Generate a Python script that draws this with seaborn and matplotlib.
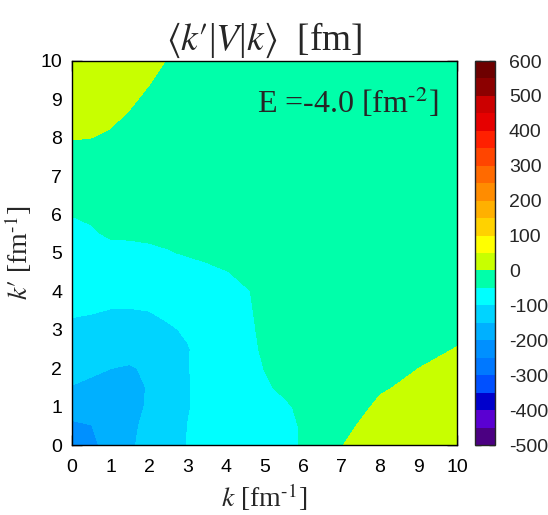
import numpy as np
import matplotlib
matplotlib.use("Agg")
import matplotlib.pyplot as plt
import seaborn as sns

# ---- data ----
k_grid = [0, 0.5, 1, 1.5, 2, 2.5, 3, 3.5, 4, 4.5, 5, 5.5, 6, 7, 8, 9, 10]
kp_grid = [0, 0.5, 1, 1.5, 2, 2.5, 3, 3.5, 4, 4.5, 5, 5.5, 6, 7, 8, 9, 10]

# V(k', k) in fm ; one row per k' value, columns follow k_grid
V_kp00 = [-238, -210, -183, -156, -136, -117, -99, -91, -82, -74, -66, -57, -48, -1, 20, 31, 38]
V_kp05 = [-208, -201, -180.5, -159.3, -139, -119.3, -99.8, -91.3, -82.8, -74.3, -65.8, -57.3, -47.5, -8, 13, 25, 30.6]
V_kp10 = [-179.4, -180.4, -169.4, -158.4, -147, -123.3, -101.7, -91.5, -82.4, -73.2, -64, -54.8, -44, -18.8, 6, 17, 23]
V_kp15 = [-151.7, -159.6, -159.6, -154.5, -149, -125, -102.3, -89.4, -77.6, -65.8, -54, -44.6, -36.5, -20.2, -3.9, 8, 15.7]
V_kp20 = [-136.4, -141.8, -149.7, -153, -145, -120.3, -101.5, -88, -74.9, -61.8, -49.4, -43.2, -37.1, -24.8, -12.4, -0.1, 8.3]
V_kp25 = [-122, -126.7, -133.5, -137, -126, -112.2, -102, -86.9, -73.1, -59.2, -46, -43.4, -38.5, -28.6, -18.7, -8.9, 1]
V_kp30 = [-107.5, -111.5, -117.4, -119, -112.9, -104.2, -96, -81.9, -69, -56, -45, -43.6, -39.5, -31.2, -22.9, -14.6, -6]
V_kp35 = [-95.6, -97.4, -101.3, -101.7, -99.7, -93, -82, -72, -63, -53.5, -45, -43.8, -40.1, -32.6, -25, -17.5, -10]
V_kp40 = [-86.3, -86.4, -87.2, -86.9, -84.9, -79.4, -70.9, -63.7, -56.7, -51, -47.2, -44, -40.5, -33.6, -26.7, -19.9, -13]
V_kp45 = [-77.1, -75.4, -73.3, -72.5, -70.1, -65.5, -59.5, -54.6, -50.6, -47.3, -45, -42, -39, -33, -27, -21, -15]
V_kp50 = [-67.9, -64.4, -59.4, -58, -55.3, -51.6, -48, -45.5, -44, -43, -42, -40.5, -38.5, -34, -28.5, -22.5, -17]
V_kp55 = [-58.7, -53.4, -46.5, -46, -45, -44, -43, -42, -41.5, -41, -40, -39, -37.5, -33.5, -28.5, -23, -18]
V_kp60 = [-49.2, -46, -42, -40.5, -39.5, -38.5, -37.5, -37, -36.5, -36, -35, -34, -33, -30, -26, -21.5, -19]
V_kp70 = [-23.9, -25, -26, -27, -28, -29, -29.5, -30, -30.5, -30.5, -30.5, -30, -29.5, -28, -25, -22, -20]
V_kp80 = [1.5, 0.1, -2, -5, -8, -11, -13.5, -15.5, -17, -18.5, -19.5, -20.5, -21, -22, -22, -21, -19]
V_kp90 = [15, 10.6, 6.2, 1.8, -2.5, -6.5, -10, -12.5, -14.5, -16, -17.5, -18.5, -19.5, -20.5, -20, -19, -17]
V_kp100 = [25, 19.8, 14.7, 9.5, 4.3, -0.8, -5, -8.5, -11, -13, -15, -16, -17, -18, -17, -16, -15]

levels = list(range(-500, 601, 50))
level_colors = [
    "#4b0082", "#5a00d2", "#0000cc", "#0050ff", "#0078ff", "#0090ff",
    "#00b0ff", "#00d4ff", "#00ffff", "#00ffaa", "#c8ff00", "#ffff00",
    "#ffd200", "#ffb000", "#ff8c00", "#ff6a00", "#ff4500", "#ff2000",
    "#e60000", "#cc0000", "#8c0000", "#6e0000",
]
cbar_ticks = list(range(-500, 601, 100))
axis_ticks = list(range(0, 11))

title_text = "$\\langle k\u2032$|$V$|$k\\rangle$  [fm]"
xlabel_text = r"$k$ [fm$^{\text{-}1}$]"
ylabel_text = "$k\u2032$ [fm$^{\\text{-}1}$]"
energy_text = r"E =-4.0 [fm$^{\text{-}2}$]"

# ---- style ----
sns.set_style("ticks")
plt.rcParams["font.family"] = ["Liberation Sans", "DejaVu Sans"]
plt.rcParams["mathtext.fontset"] = "stix"
plt.rcParams["axes.unicode_minus"] = False

V = np.array([V_kp00, V_kp05, V_kp10, V_kp15, V_kp20, V_kp25, V_kp30, V_kp35,
              V_kp40, V_kp45, V_kp50, V_kp55, V_kp60, V_kp70, V_kp80, V_kp90, V_kp100])

W, H = 548, 515
fig = plt.figure(figsize=(W / 100, H / 100), dpi=100)
ax = fig.add_axes([72 / W, 1 - 445 / H, 385 / W, 384 / H])
cax = fig.add_axes([475 / W, 1 - 445 / H, 20 / W, 384 / H])

cs = ax.contourf(k_grid, kp_grid, V, levels=levels, colors=level_colors, antialiased=False)

ax.set_xlim(0, 10)
ax.set_ylim(0, 10)
ax.set_xticks(axis_ticks)
ax.set_yticks(axis_ticks)
ax.tick_params(direction="in", length=7, width=1, top=True, right=True,
               labelsize=14, pad=7, colors="black")
ax.tick_params(axis="x", pad=10)
for s in ax.spines.values():
    s.set_linewidth(1.0)
    s.set_color("black")

serif = "Liberation Serif"
ax.set_title(title_text, fontsize=27, family=serif, pad=8)
ax.set_xlabel(xlabel_text, fontsize=20, family=serif)
ax.set_ylabel(ylabel_text, fontsize=20, family=serif)
ax.xaxis.set_label_coords(0.5, -0.095)
ax.yaxis.set_label_coords(-0.1, 0.5)

ax.text(0.951, 0.865, energy_text, transform=ax.transAxes, ha="right", va="baseline",
        fontsize=23, family=serif)

cb = fig.colorbar(cs, cax=cax, ticks=cbar_ticks)
cb.ax.tick_params(direction="in", length=4, width=1, left=True, right=True,
                  labelsize=14, pad=10)
cb.outline.set_linewidth(1.0)

fig.savefig("out.png", dpi=100)
